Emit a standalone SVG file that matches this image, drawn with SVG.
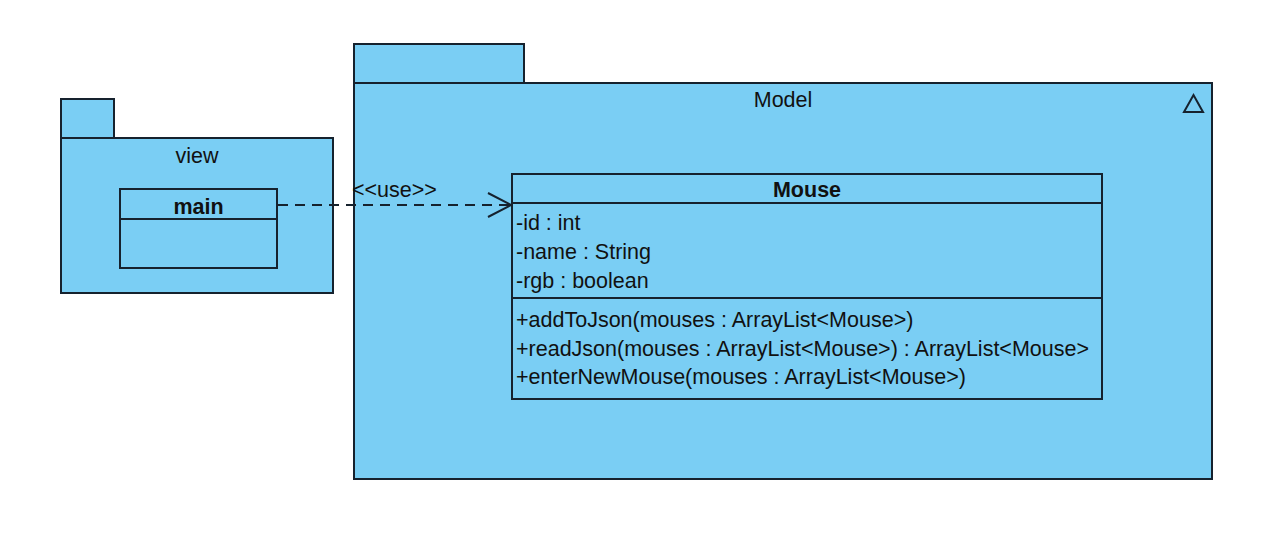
<svg xmlns="http://www.w3.org/2000/svg" width="1280" height="534" viewBox="0 0 1280 534">
<style>
.pk{fill:#7acef4;stroke:#16222e;stroke-width:2}
.cl{fill:#7acef4;stroke:#16222e;stroke-width:2}
.ln{stroke:#16222e;stroke-width:2;fill:none}
text{font-family:"Liberation Sans",Arial,sans-serif;font-size:21.5px;fill:#111}
.b{font-weight:bold}
.c{text-anchor:middle}
</style>
<rect width="1280" height="534" fill="#fff"/>
<g id="view">
<rect class="pk" x="61" y="99" width="53" height="39"/>
<rect class="pk" x="61" y="138" width="272" height="155"/>
<text class="c" x="197" y="163">view</text>
</g>
<g id="main">
<rect class="cl" x="120" y="189" width="157" height="79"/>
<line class="ln" x1="120" y1="219" x2="277" y2="219"/>
<text class="c b" x="198.5" y="214">main</text>
</g>
<g id="Model">
<rect class="pk" x="354" y="44" width="170" height="39"/>
<rect class="pk" x="354" y="83" width="858" height="396"/>
<text class="c" x="783" y="107">Model</text>
<polygon points="1184,112 1203,112 1193.5,95" fill="none" stroke="#16222e" stroke-width="2"/>
</g>
<g id="Mouse">
<rect class="cl" x="512" y="174" width="590" height="225"/>
<line class="ln" x1="512" y1="203" x2="1102" y2="203"/>
<line class="ln" x1="512" y1="298" x2="1102" y2="298"/>
<text class="c b" x="807" y="197">Mouse</text>
<text x="516" y="230">-id : int</text>
<text x="516" y="259">-name : String</text>
<text x="516" y="288">-rgb : boolean</text>
<text x="516" y="327">+addToJson(mouses : ArrayList&lt;Mouse&gt;)</text>
<text x="516" y="355.5">+readJson(mouses : ArrayList&lt;Mouse&gt;) : ArrayList&lt;Mouse&gt;</text>
<text x="516" y="384">+enterNewMouse(mouses : ArrayList&lt;Mouse&gt;)</text>
</g>
<g id="connectors">
<line class="ln" x1="278" y1="205" x2="511" y2="205" stroke-dasharray="10,7"/>
<polyline class="ln" points="488,193 511,205 488,217"/>
<text x="352" y="197">&lt;&lt;use&gt;&gt;</text>
</g>
</svg>
